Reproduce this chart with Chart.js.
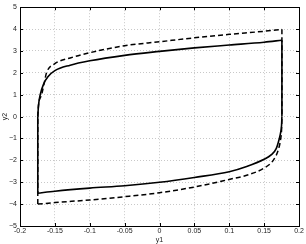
<!DOCTYPE html>
<html>
<head>
<meta charset="utf-8">
<script src="https://cdn.jsdelivr.net/npm/chart.js@4"></script>
<style>
    html, body { margin: 0; padding: 0; background: #fff; }
    canvas { display: block; }
</style>
</head>
<body>
<canvas id="loopChart" width="306" height="244"></canvas>
<script>
// Solid loop, branches listed left to right
const solidUpperX = [-0.1745, -0.1735, -0.1710, -0.1660, -0.1600, -0.1500, -0.1280, -0.1, -0.05, 0, 0.05, 0.1, 0.15, 0.1755];
const solidUpperY = [0, 0.5, 1, 1.5, 1.82, 2.1, 2.35, 2.55, 2.8, 2.98, 3.14, 3.27, 3.40, 3.49];
const solidLowerX = [-0.1745, -0.15, -0.1, -0.05, 0, 0.05, 0.1, 0.125, 0.15, 0.1600, 0.1675, 0.1718, 0.1735, 0.1750, 0.1755];
const solidLowerY = [-3.5, -3.41, -3.27, -3.16, -3.0, -2.78, -2.52, -2.28, -1.95, -1.75, -1.45, -1, -0.75, -0.4, 0];

// Dashed loop
const dashUpperX = [-0.1745, -0.1735, -0.1690, -0.1655, -0.1620, -0.15, -0.128, -0.1, -0.05, 0, 0.05, 0.1, 0.15, 0.1755];
const dashUpperY = [0, 0.5, 1, 1.5, 2, 2.42, 2.68, 2.92, 3.24, 3.42, 3.60, 3.76, 3.90, 3.99];
const dashLowerX = [-0.1745, -0.15, -0.1, -0.05, 0, 0.05, 0.1, 0.125, 0.15, 0.1630, 0.1705, 0.1738, 0.1750, 0.1755];
const dashLowerY = [-4.0, -3.93, -3.81, -3.66, -3.48, -3.22, -2.87, -2.68, -2.35, -2, -1.5, -1, -0.6, 0];

// Axis ranges / ticks
const xRange = [-0.2, 0.2];
const xStep = 0.05;
const yRange = [-5, 5];
const yStep = 1;
const xTitle = "y1";
const yTitle = "y2";

const toPoints = (xs, ys) => xs.map((x, i) => ({ x, y: ys[i] }));

// Curved branches plus the two vertical edges that close each loop
function loopDatasets(upX, upY, loX, loY, style) {
    const up = toPoints(upX, upY);
    const lo = toPoints(loX, loY);
    const base = {
        showLine: true,
        borderColor: "#000",
        pointRadius: 0,
        borderWidth: style.width,
        borderDash: style.dash
    };
    return [
        { ...base, data: up, cubicInterpolationMode: "monotone" },
        { ...base, data: lo, cubicInterpolationMode: "monotone" },
        { ...base, data: [lo[0], up[0]], tension: 0 },
        { ...base, data: [up[up.length - 1], lo[lo.length - 1]], tension: 0 }
    ];
}

// Box around the plot with inward ticks on all four sides
const boxPlugin = {
    id: "box",
    afterDraw(chart) {
        const { ctx, chartArea: a, scales } = chart;
        ctx.save();
        ctx.strokeStyle = "#000";
        ctx.lineWidth = 1;
        ctx.beginPath();
        scales.x.ticks.forEach(t => {
            const px = Math.round(scales.x.getPixelForValue(t.value)) + 0.5;
            ctx.moveTo(px, a.bottom); ctx.lineTo(px, a.bottom - 3);
            ctx.moveTo(px, a.top); ctx.lineTo(px, a.top + 3);
        });
        scales.y.ticks.forEach(t => {
            const py = Math.round(scales.y.getPixelForValue(t.value)) + 0.5;
            ctx.moveTo(a.left, py); ctx.lineTo(a.left + 3, py);
            ctx.moveTo(a.right, py); ctx.lineTo(a.right - 3, py);
        });
        ctx.stroke();
        ctx.strokeRect(Math.round(a.left) + 0.5, Math.round(a.top) + 0.5,
            Math.round(a.right - a.left), Math.round(a.bottom - a.top));
        ctx.restore();
    }
};

const tickFont = { family: "'Liberation Sans', Arial, sans-serif", size: 7 };

new Chart(document.getElementById("loopChart"), {
    type: "scatter",
    data: {
        datasets: [
            ...loopDatasets(dashUpperX, dashUpperY, dashLowerX, dashLowerY, { width: 1.5, dash: [5, 3] }),
            ...loopDatasets(solidUpperX, solidUpperY, solidLowerX, solidLowerY, { width: 1.6, dash: [] })
        ]
    },
    options: {
        responsive: false,
        animation: false,
        layout: { padding: { left: 0, right: 7, top: 5, bottom: 0 } },
        plugins: {
            legend: { display: false },
            tooltip: { enabled: false }
        },
        scales: {
            x: {
                type: "linear",
                min: xRange[0],
                max: xRange[1],
                afterBuildTicks(scale) {
                    const ticks = [];
                    for (let v = xRange[0]; v <= xRange[1] + 1e-9; v += xStep) ticks.push({ value: Number(v.toFixed(2)) });
                    scale.ticks = ticks;
                },
                afterFit(scale) { scale.height = 18; },
                ticks: {
                    font: tickFont,
                    color: "#222",
                    padding: 1,
                    maxRotation: 0,
                    autoSkip: false,
                    callback: v => String(Number(v.toFixed(2)))
                },
                grid: {
                    color: "#c8c8c8",
                    lineWidth: 1,
                    drawTicks: false
                },
                border: { display: false, dash: [1, 2] },
                title: { display: true, text: xTitle, font: tickFont, color: "#222", padding: { top: 0, bottom: 0 } }
            },
            y: {
                type: "linear",
                min: yRange[0],
                max: yRange[1],
                ticks: {
                    stepSize: yStep,
                    font: tickFont,
                    color: "#222",
                    padding: 3,
                    callback: v => (v < 0 ? "\u2212" + Math.abs(v) : String(v))
                },
                afterFit(scale) { scale.width = 20; },
                grid: {
                    color: "#c8c8c8",
                    lineWidth: 1,
                    drawTicks: false
                },
                border: { display: false, dash: [1, 2] },
                title: { display: true, text: yTitle, font: tickFont, color: "#222", padding: { top: 1, bottom: 0 } }
            }
        }
    },
    plugins: [boxPlugin]
});
</script>
</body>
</html>
